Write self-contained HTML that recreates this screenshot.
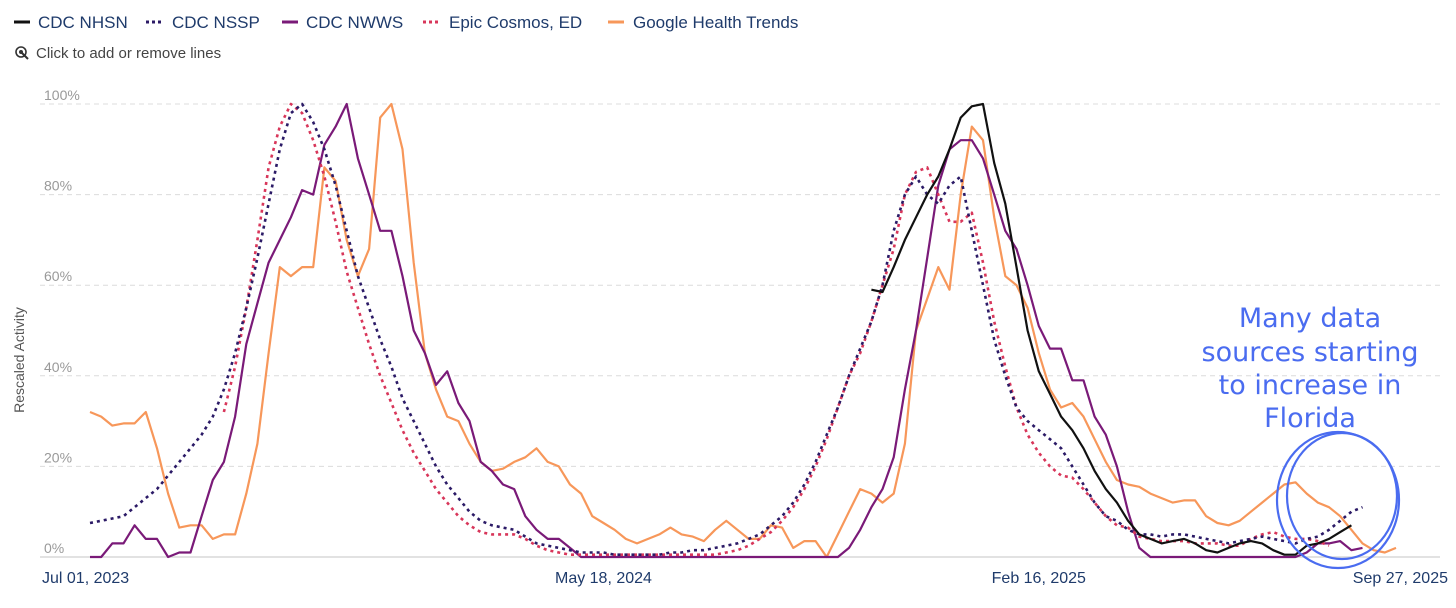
<!DOCTYPE html>
<html><head><meta charset="utf-8"><style>
body{margin:0;background:#fff;width:1456px;height:608px;overflow:hidden;font-family:"Liberation Sans",sans-serif}
svg{display:block}
</style></head><body>
<svg id="chart" width="1456" height="608">
<g id="legend" font-size="17" fill="#1f3b6b">
 <g><line x1="14" y1="22" x2="30" y2="22" stroke="#111" stroke-width="3"/><text x="38" y="28">CDC NHSN</text></g>
 <g><line x1="146" y1="22" x2="164" y2="22" stroke="#2b1a66" stroke-width="3" stroke-dasharray="3,3"/><text x="172" y="28">CDC NSSP</text></g>
 <g><line x1="282" y1="22" x2="298" y2="22" stroke="#7a1a78" stroke-width="3"/><text x="306" y="28">CDC NWWS</text></g>
 <g><line x1="423" y1="22" x2="441" y2="22" stroke="#d8365a" stroke-width="3" stroke-dasharray="3,3"/><text x="449" y="28">Epic Cosmos, ED</text></g>
 <g><line x1="608" y1="22" x2="624" y2="22" stroke="#f7975a" stroke-width="3"/><text x="633" y="28">Google Health Trends</text></g>
</g>
<g><circle cx="21" cy="52" r="5" fill="none" stroke="#333" stroke-width="1.6"/><circle cx="21" cy="52" r="2" fill="#333"/><path d="M21 52 l7 7" stroke="#333" stroke-width="2"/><text x="36" y="58" font-size="15" fill="#444">Click to add or remove lines</text></g>
<text transform="translate(24,360) rotate(-90)" text-anchor="middle" font-size="14" fill="#555">Rescaled Activity</text>
<g id="grid"></g><g id="series"></g>
<g font-family="'DejaVu Sans',sans-serif" font-size="27" fill="#4a6cf0" text-anchor="middle">
 <text x="1310" y="327">Many data</text><text x="1310" y="361">sources starting</text><text x="1310" y="394">to increase in</text><text x="1310" y="427">Florida</text>
</g>
<g fill="none" stroke="#4a6cf0" stroke-width="2.2">
 <ellipse cx="1338" cy="500" rx="61" ry="68"/><ellipse cx="1342" cy="496" rx="55" ry="63"/>
</g>
</svg>
<script>
const yTicks=[0,20,40,60,80,100];
const xTickLabels=["Jul 01, 2023","May 18, 2024","Feb 16, 2025","Sep 27, 2025"];
const xTickWeeks=[0,46,85,117];
const nhsnStart=70;
const nhsn=[59,58.5,64,70,75,80,84,90,97,99.5,100,87,78,64,50,41,36,31,28,24,19,15,12,8,5,4,3,3.5,4,3,1.5,1,2,3,3.5,3,1.5,0.5,0.5,2.5,3,4,5.5,7];
const nsspStart=0;
const nssp=[7.5,8,8.5,9,11,13,15,18,21,24,27,31,37,45,55,66,78,90,98,100,96,90,82,72,62,55,48,42,35,30,25,20,16,13,10,8,7,6.5,6,4.5,3,2.5,2,1.5,1,1,1,0.5,0.5,0.5,0.5,0.5,1,1,1.5,1.5,2,2.5,3,4,5,7,9,12,16,21,27,33,40,46,52,60,72,80,84,80,78,82,84,72,60,48,40,33,30,28,26,24,20,16,12,9,8,6,5,5,4.5,5,5,4.5,4,3.5,3,3.5,4,4.5,4,3.5,3,4,4.5,6,8,10,11];
const nwwsStart=0;
const nwws=[0,0,3,3,7,4,4,0,1,1,9,17,21,31,47,56,65,70,75,81,80,91,95,100,88,80,72,72,62,50,45,38,41,34,30,21,19,16,15,9,6,4,4,2,0,0,0,0,0,0,0,0,0,0,0,0,0,0,0,0,0,0,0,0,0,0,0,0,2,6,11,15,22,37,50,66,82,90,92,92,88,80,72,68,60,51,46,46,39,39,31,27,20,10,2,0,0,0,0,0,0,0,0,0,0,0,0,0,0,1,3,3,3.5,1.5,2];
const epicStart=12;
const epic=[32,42,55,70,86,95,100,98,92,84,74,63,55,47,40,34,28,23,19,15,12,9,7,5.5,5,5,5,4,2.5,1.5,1,0.5,0.5,0.5,0.5,0.5,0.5,0.5,0.5,0.5,0.5,0.5,0.5,0.5,0.5,1,1.5,2.5,4,5.5,8,11,15,20,26,33,40,45,52,60,68,80,85,86,80,74,74,76,65,52,42,33,27,23,20,18,17.5,15,12,9,7,6.5,4.5,4,3.5,3.5,3.5,3,3,3,2.5,2.5,4,5,5.5,4.5,4,4,3.5,2.5];
const googleStart=0;
const google=[32,31,29,29.5,29.5,32,24,14,6.5,7,7,4,5,5,14,25,45,64,62,64,64,86,83,70,62,68,97,100,90,65,45,37,31,30,25,21,19,19.5,21,22,24,21,20,16,14,9,7.5,6,4,3,4,5,6.5,5,4.5,3.5,6,8,6,4,4,7,6.5,2,3.5,3.5,0,5,10,15,14,12,14,25,50,57,64,59,80,95,92,75,62,60,55,45,37,33,34,31,26,21,17,16,15.5,14,13,12,12.5,12.5,9,7.5,7,8,10,12,14,16,16.5,14,12,11,9,6,3,1.5,1,2];

const NS="http://www.w3.org/2000/svg";
const xS=w=>90+w*(1306/117);
const yS=v=>557-v*4.53;
const grid=document.getElementById('grid'),series=document.getElementById('series');
yTicks.forEach(t=>{
 const l=document.createElementNS(NS,'line');
 
 
 l.setAttribute('x1',40);l.setAttribute('x2',1440);l.setAttribute('y1',yS(t));l.setAttribute('y2',yS(t));
 l.setAttribute('stroke',t===0?'#d8d8d8':'#dcdcdc');l.setAttribute('stroke-width',t===0?1.5:1);
 if(t!==0)l.setAttribute('stroke-dasharray','5,4');
 grid.appendChild(l);
 const tx=document.createElementNS(NS,'text');
 
 
 tx.setAttribute('x',44);tx.setAttribute('y',yS(t)-4);tx.setAttribute('font-size','14');tx.setAttribute('fill','#999');
 tx.textContent=t+'%';grid.appendChild(tx);
});
xTickLabels.forEach((s,i)=>{
 const tx=document.createElementNS(NS,'text');
 
 
 const x=xS(xTickWeeks[i]);
 tx.setAttribute('x',i===0?42:(i===3?1448:x));tx.setAttribute('y',583);
 tx.setAttribute('text-anchor',i===0?'start':(i===3?'end':'middle'));
 tx.setAttribute('font-size','16');tx.setAttribute('fill','#1f3b6b');
 tx.textContent=s;grid.appendChild(tx);
});
function draw(vals,start,color,dash,name){
 const p=document.createElementNS(NS,'path');
 
 
 p.setAttribute('d',vals.map((v,i)=>(i?'L':'M')+xS(start+i).toFixed(1)+' '+yS(v).toFixed(1)).join(''));
 p.setAttribute('fill','none');p.setAttribute('stroke',color);p.setAttribute('stroke-width',dash?2.6:2.2);
 p.setAttribute('stroke-linejoin','round');
 if(dash)p.setAttribute('stroke-dasharray','3,4');
 series.appendChild(p);
}
draw(google,googleStart,'#f7975a',false,'line-google-health-trends');
draw(nwws,nwwsStart,'#7a1a78',false,'line-cdc-nwws');
draw(epic,epicStart,'#d8365a',true,'line-epic-cosmos');
draw(nssp,nsspStart,'#2b1a66',true,'line-cdc-nssp');
draw(nhsn,nhsnStart,'#111',false,'line-cdc-nhsn');
</script>
</body></html>
